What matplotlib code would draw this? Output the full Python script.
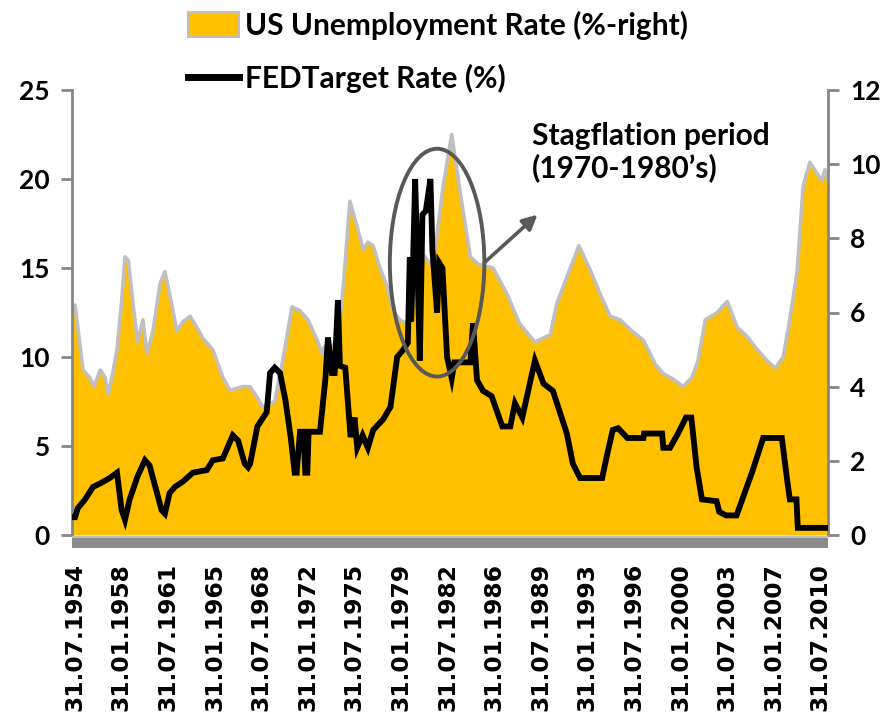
import matplotlib
matplotlib.use("Agg")
import matplotlib.pyplot as plt
from matplotlib.patches import Patch, Ellipse, Rectangle
from matplotlib.lines import Line2D

# US unemployment rate (%, right axis)
unemp_years = [1954.37, 1954.6, 1955.2, 1955.7, 1956.0, 1956.5, 1956.85, 1957.1, 1957.45, 1957.75,
               1958.1, 1958.35, 1958.6, 1958.95, 1959.3, 1959.7, 1960.0, 1960.45, 1961.0, 1961.35,
               1961.9, 1962.25, 1962.7, 1963.25, 1963.75, 1964.2, 1964.95, 1965.7, 1966.25, 1967.15,
               1967.75, 1968.3, 1968.7, 1969.6, 1970.2, 1970.9, 1971.5, 1972.1, 1972.8, 1973.15,
               1973.4, 1974.0, 1974.4, 1974.75, 1975.25, 1975.8, 1976.25, 1976.6, 1977.0, 1977.5,
               1978.05, 1978.5, 1979.0, 1979.5, 1979.9, 1980.5, 1981.3, 1981.65, 1982.25, 1982.9,
               1983.55, 1984.3, 1984.9, 1986.0, 1987.05, 1988.0, 1989.15, 1990.3, 1990.8, 1991.55,
               1992.45, 1993.3, 1994.05, 1994.8, 1995.55, 1996.45, 1997.3, 1998.2, 1998.8, 1999.55,
               2000.3, 2000.95, 2001.4, 2001.95, 2002.85, 2003.6, 2004.35, 2005.1, 2005.85, 2006.6,
               2007.2, 2007.8, 2008.2, 2008.85, 2009.3, 2009.8, 2010.35, 2010.7, 2010.95, 2011.15]
unemp_rate = [6.0, 6.2, 4.45, 4.25, 4.0, 4.45, 4.25, 3.8, 4.4, 5.0,
              6.3, 7.5, 7.4, 6.25, 5.2, 5.8, 4.9, 5.5, 6.8, 7.1,
              6.15, 5.5, 5.75, 5.9, 5.6, 5.3, 5.0, 4.25, 3.9, 4.0,
              4.0, 3.7, 3.45, 3.6, 4.7, 6.15, 6.05, 5.8, 5.25, 4.9,
              5.1, 5.1, 5.4, 6.7, 9.0, 8.3, 7.7, 7.9, 7.8, 7.2,
              6.7, 6.05, 5.8, 5.7, 6.0, 7.7, 7.3, 7.7, 9.4, 10.8,
              9.2, 7.5, 7.3, 7.2, 6.5, 5.7, 5.2, 5.4, 6.25, 6.95,
              7.8, 7.15, 6.5, 5.9, 5.8, 5.5, 5.25, 4.6, 4.35, 4.2,
              4.0, 4.25, 4.7, 5.8, 6.0, 6.3, 5.6, 5.35, 5.0, 4.7,
              4.5, 4.8, 5.6, 7.1, 9.4, 10.05, 9.75, 9.55, 9.85, 9.6]

# FED target rate (%, left axis)
fed_years = [1954.37, 1954.6, 1954.8, 1955.35, 1955.95, 1956.5, 1957.2, 1957.75, 1958.1, 1958.35,
             1958.7, 1959.3, 1959.85, 1960.2, 1960.85, 1961.1, 1961.35, 1961.7, 1962.1, 1962.7,
             1963.45, 1964.5, 1964.95, 1965.7, 1966.45, 1966.85, 1967.35, 1967.6, 1967.75, 1968.3,
             1969.0, 1969.25, 1969.6, 1970.0, 1970.4, 1970.8, 1971.1, 1971.25, 1971.5, 1971.75,
             1971.9, 1972.05, 1972.15, 1973.0, 1973.4, 1973.6, 1973.9, 1974.1, 1974.35, 1974.5,
             1974.9, 1975.3, 1975.6, 1975.8, 1976.2, 1976.6, 1977.0, 1977.75, 1978.3, 1978.8,
             1979.25, 1979.6, 1979.75, 1979.85, 1980.0, 1980.15, 1980.3, 1980.5, 1980.7, 1980.95,
             1981.3, 1981.45, 1981.8, 1981.95, 1982.2, 1982.55, 1982.9, 1983.1, 1984.3, 1984.5,
             1984.8, 1985.25, 1985.9, 1986.7, 1987.3, 1987.65, 1988.2, 1989.15, 1989.8, 1990.5,
             1991.55, 1992.0, 1992.55, 1994.2, 1994.6, 1995.0, 1995.4, 1996.1, 1997.3, 1997.35,
             1998.7, 1998.8, 1999.3, 1999.9, 2000.5, 2000.9, 2001.3, 2001.7, 2002.8, 2003.0,
             2003.5, 2004.3, 2005.5, 2006.3, 2007.7, 2008.1, 2008.3, 2008.8, 2008.9, 2011.15]
fed_rate = [1.0, 1.0, 1.5, 2.0, 2.7, 2.9, 3.2, 3.5, 1.4, 0.85,
            2.0, 3.3, 4.2, 3.9, 2.1, 1.4, 1.2, 2.35, 2.7, 3.0,
            3.5, 3.65, 4.2, 4.3, 5.6, 5.3, 4.0, 3.8, 4.0, 6.1,
            6.9, 9.1, 9.4, 9.1, 7.6, 5.5, 3.5, 3.5, 5.8, 5.8,
            3.5, 3.5, 5.8, 5.8, 8.7, 11.1, 9.1, 9.1, 13.2, 9.5,
            9.4, 5.5, 6.6, 4.9, 5.6, 4.9, 5.9, 6.5, 7.2, 10.0,
            10.4, 10.8, 15.6, 12.0, 15.5, 20.0, 16.0, 9.8, 18.0, 18.2,
            20.0, 16.0, 12.5, 15.3, 15.0, 10.0, 8.8, 9.7, 9.7, 11.9,
            8.7, 8.1, 7.8, 6.1, 6.1, 7.4, 6.6, 9.8, 8.5, 8.1,
            5.7, 4.0, 3.2, 3.2, 4.6, 5.9, 6.0, 5.45, 5.45, 5.7,
            5.7, 4.9, 4.9, 5.7, 6.6, 6.6, 3.8, 2.0, 1.9, 1.3,
            1.1, 1.1, 3.6, 5.45, 5.45, 3.1, 2.0, 2.0, 0.4, 0.4]

tick_labels = ["31.07.1954", "31.01.1958", "31.07.1961", "31.01.1965", "31.07.1968", "31.01.1972",
               "31.07.1975", "31.01.1979", "31.07.1982", "31.01.1986", "31.07.1989", "31.01.1993",
               "31.07.1996", "31.01.2000", "31.07.2003", "31.01.2007", "31.07.2010"]
tick_pos = [int(s[6:]) + int(s[3:5]) / 12 for s in tick_labels]

W, H = 888, 714
fig = plt.figure(figsize=(W / 100, H / 100), dpi=100)
ax = fig.add_axes([72 / W, 1 - 535 / H, 756 / W, 445 / H])
ax2 = ax.twinx()
ax.set_zorder(ax2.get_zorder() + 1)
ax.patch.set_visible(False)

# unemployment area (right axis)
ax2.fill_between(unemp_years, unemp_rate, 0, color="#FFC000", lw=0, zorder=1)
ax2.plot(unemp_years, unemp_rate, color="#BFBFBF", lw=2.6, zorder=2)
ax2.set_ylim(0, 12)
ax2.set_yticks(range(0, 13, 2))

# fed target rate (left axis)
ax.plot(fed_years, fed_rate, color="black", lw=4.2, solid_joinstyle="miter", zorder=3)
ax.set_ylim(0, 25)
ax.set_yticks(range(0, 26, 5))
ax.set_xlim(1954.37, 2011.17)

grey = "#868686"
ytick_font = dict(family="Lato", weight="bold", size=19)
for a in (ax, ax2):
    for s in ("top", "bottom"):
        a.spines[s].set_visible(False)
    a.tick_params(axis="y", direction="out", length=8, width=2, color=grey, pad=8)
ax.spines["left"].set_color(grey)
ax.spines["left"].set_linewidth(2)
ax2.spines["right"].set_color(grey)
ax2.spines["right"].set_linewidth(2)
ax2.spines["left"].set_visible(False)
ax.spines["right"].set_visible(False)
for lab in ax.get_yticklabels() + ax2.get_yticklabels():
    lab.set_fontproperties(ytick_font)

ax.set_xticks(tick_pos)
ax.set_xticklabels(tick_labels, rotation=90, fontsize=16.8, fontweight="bold", family="DejaVu Sans")
ax.tick_params(axis="x", length=0, pad=20)

# grey floor under the plot
fig.patches.append(Rectangle((72 / W, 1 - 548 / H), 756 / W, 12 / H, transform=fig.transFigure,
                             facecolor="#8C8C8C", edgecolor="none", zorder=5))
fig.patches.append(Rectangle((72 / W, 1 - 538 / H), 756 / W, 2 / H, transform=fig.transFigure,
                             facecolor="#BFBFBF", edgecolor="none", zorder=6))

# stagflation ellipse + annotation
ax.add_patch(Ellipse((1981.8, 15.3), 7.1, 12.8, fill=False, edgecolor="#595959", lw=2.8, zorder=4))
ax.annotate("", xy=(1989.5, 18.1), xytext=(1985.2, 15.2),
            arrowprops=dict(arrowstyle="-|>", color="#595959", lw=2.6, mutation_scale=22))
ax.text(1988.9, 23.2, "Stagflation period\n(1970-1980’s)", ha="left", va="top",
        fontsize=21.5, fontweight="bold", family="Lato", linespacing=1.15)

handles = [Patch(facecolor="#FFC000", edgecolor="#BFBFBF", lw=1.5),
           Line2D([0], [0], color="black", lw=5)]
fig.legend(handles, ["US Unemployment Rate (%-right)", "FEDTarget Rate (%)"],
           loc="upper left", bbox_to_anchor=(188 / W, 1 - 11 / H), frameon=False,
           prop=dict(family="Lato", weight="bold", size=21.5), handlelength=1.7,
           handleheight=0.9, handletextpad=0.2, labelspacing=0.8, borderpad=0, borderaxespad=0)

fig.savefig("out.png", dpi=100)
